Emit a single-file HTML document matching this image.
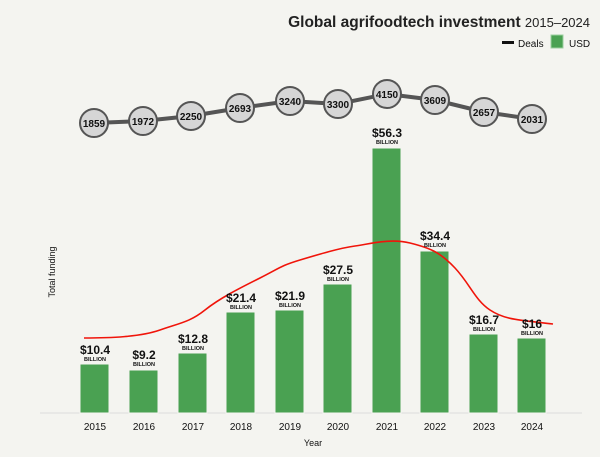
<!DOCTYPE html>
<html><head><style>
body{margin:0;background:#f4f4f0;}
svg{display:block;font-family:"Liberation Sans",sans-serif;}
</style></head><body>
<svg width="600" height="457" viewBox="0 0 600 457">
<rect width="600" height="457" fill="#f4f4f0"/>
<text x="590" y="27" text-anchor="end" font-size="15.5" font-weight="bold" fill="#222">Global agrifoodtech investment <tspan font-weight="normal" font-size="13">2015–2024</tspan></text>
<rect x="502" y="41" width="12" height="3" fill="#111"/>
<text x="518" y="47" font-size="10" fill="#111">Deals</text>
<rect x="551" y="35" width="12" height="13" fill="#4aa152" stroke="#9bcf9f"/>
<text x="569" y="47" font-size="10" fill="#111">USD</text>
<line x1="40" y1="413" x2="582" y2="413" stroke="#ddd" stroke-width="1"/>
<g fill="#4aa152" stroke="#f4f4f0" stroke-width="1">
<rect x="80" y="364" width="29" height="49"/>
<rect x="129" y="370" width="29" height="43"/>
<rect x="178" y="353" width="29" height="60"/>
<rect x="226" y="312" width="29" height="101"/>
<rect x="275" y="310" width="29" height="103"/>
<rect x="323" y="284" width="29" height="129"/>
<rect x="372" y="148" width="29" height="265"/>
<rect x="420" y="251" width="29" height="162"/>
<rect x="469" y="334" width="29" height="79"/>
<rect x="517" y="338" width="29" height="75"/>
</g>
<path d="M84,338 C110,338 140,337 160,330 S190,322 205,310 S240,288 260,278 S280,266 300,260 S340,248 355,246 S390,238 410,243 S440,252 455,268 S475,300 490,310 S520,320 553,324" fill="none" stroke="#f0140a" stroke-width="1.6"/>
<g font-weight="bold" fill="#111" text-anchor="middle">
<g font-size="12">
<text x="95" y="354">$10.4</text><text x="144" y="359">$9.2</text><text x="193" y="343">$12.8</text>
<text x="241" y="302">$21.4</text><text x="290" y="300">$21.9</text><text x="338" y="274">$27.5</text>
<text x="387" y="137">$56.3</text><text x="435" y="240">$34.4</text><text x="484" y="324">$16.7</text><text x="532" y="328">$16</text>
</g>
<g font-size="5.5">
<text x="95" y="361">BILLION</text><text x="144" y="366">BILLION</text><text x="193" y="350">BILLION</text>
<text x="241" y="309">BILLION</text><text x="290" y="307">BILLION</text><text x="338" y="281">BILLION</text>
<text x="387" y="144">BILLION</text><text x="435" y="247">BILLION</text><text x="484" y="331">BILLION</text><text x="532" y="335">BILLION</text>
</g>
</g>
<polyline points="94,123 143,121 191,116 240,108 290,101 338,104 387,94 435,100 484,112 532,119" fill="none" stroke="#555" stroke-width="4"/>
<g fill="#d6d6d6" stroke="#555" stroke-width="2">
<circle cx="94" cy="123" r="14"/><circle cx="143" cy="121" r="14"/><circle cx="191" cy="116" r="14"/>
<circle cx="240" cy="108" r="14"/><circle cx="290" cy="101" r="14"/><circle cx="338" cy="104" r="14"/>
<circle cx="387" cy="94" r="14"/><circle cx="435" cy="100" r="14"/><circle cx="484" cy="112" r="14"/><circle cx="532" cy="119" r="14"/>
</g>
<g font-size="10" font-weight="bold" fill="#111" text-anchor="middle">
<text x="94" y="127">1859</text><text x="143" y="125">1972</text><text x="191" y="120">2250</text>
<text x="240" y="112">2693</text><text x="290" y="105">3240</text><text x="338" y="108">3300</text>
<text x="387" y="98">4150</text><text x="435" y="104">3609</text><text x="484" y="116">2657</text><text x="532" y="123">2031</text>
</g>
<g font-size="10" fill="#111" text-anchor="middle">
<text x="95" y="430">2015</text><text x="144" y="430">2016</text><text x="193" y="430">2017</text>
<text x="241" y="430">2018</text><text x="290" y="430">2019</text><text x="338" y="430">2020</text>
<text x="387" y="430">2021</text><text x="435" y="430">2022</text><text x="484" y="430">2023</text><text x="532" y="430">2024</text>
<text x="313" y="446" font-size="9">Year</text>
</g>
<text transform="translate(55,272) rotate(-90)" font-size="9" fill="#111" text-anchor="middle">Total funding</text>
</svg>
</body></html>
